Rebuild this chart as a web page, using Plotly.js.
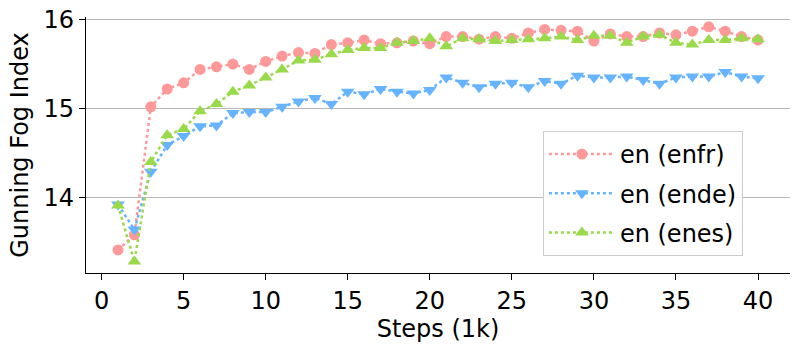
<!DOCTYPE html>
<html>
<head>
<meta charset="utf-8">
<script src="https://cdn.plot.ly/plotly-3.0.1.min.js"></script>
<style>
  html, body { margin: 0; padding: 0; background: #fff; }
  #chart { width: 806px; height: 352px; }
</style>
</head>
<body>
<div id="chart"></div>
<script>
// Training steps (thousands)
const steps = Array.from({length: 40}, (_, i) => i + 1);

// Gunning Fog Index per run
const enfr = [13.41, 13.58, 15.02, 15.22, 15.29, 15.44, 15.47, 15.50, 15.44, 15.53,
              15.59, 15.63, 15.62, 15.72, 15.74, 15.77, 15.73, 15.74, 15.76, 15.73,
              15.81, 15.81, 15.78, 15.81, 15.79, 15.85, 15.89, 15.88, 15.87, 15.76,
              15.84, 15.81, 15.81, 15.85, 15.83, 15.87, 15.92, 15.87, 15.81, 15.77];
const ende = [13.92, 13.64, 14.29, 14.59, 14.69, 14.80, 14.81, 14.95, 14.96, 14.96,
              15.02, 15.08, 15.12, 15.05, 15.19, 15.16, 15.22, 15.19, 15.17, 15.21,
              15.35, 15.29, 15.24, 15.28, 15.29, 15.24, 15.31, 15.28, 15.37, 15.35,
              15.35, 15.36, 15.32, 15.28, 15.35, 15.36, 15.36, 15.41, 15.36, 15.34];
const enes = [13.91, 13.28, 14.40, 14.70, 14.77, 14.97, 15.05, 15.19, 15.26, 15.35,
              15.44, 15.54, 15.55, 15.61, 15.66, 15.68, 15.68, 15.74, 15.76, 15.79,
              15.70, 15.79, 15.78, 15.76, 15.77, 15.78, 15.79, 15.81, 15.77, 15.82,
              15.82, 15.74, 15.81, 15.83, 15.74, 15.72, 15.77, 15.77, 15.79, 15.78];

const seriesNames = ['en (enfr)', 'en (ende)', 'en (enes)'];
const colors = ['#ff9999', '#66b3ff', '#99d94a'];
const symbols = ['circle', 'triangle-down', 'triangle-up'];

const font = 'DejaVu Sans, sans-serif';

const data = [enfr, ende, enes].map((vals, i) => ({
    x: steps,
    y: vals,
    name: seriesNames[i],
    legendgroup: 'g' + i,
    type: 'scatter',
    mode: 'lines+markers',
    line: {color: colors[i], width: 2.5, dash: 'dot'},
    marker: {color: colors[i], symbol: symbols[i], size: i === 0 ? 11 : 12}
}));

const layout = {
    width: 806,
    height: 352,
    margin: {l: 86, r: 16, t: 17, b: 79},
    paper_bgcolor: '#fff',
    plot_bgcolor: '#fff',
    font: {family: font, size: 24, color: '#000'},
    showlegend: true,
    legend: {
        x: 0.649, y: 0.555, xanchor: 'left', yanchor: 'top',
        bgcolor: 'rgba(255,255,255,0.9)',
        bordercolor: '#cccccc', borderwidth: 1,
        font: {family: font, size: 24},
        itemwidth: 66,
        traceorder: 'grouped',
        tracegroupgap: 5
    },
    xaxis: {
        range: [-0.95, 41.95],
        tickvals: [0, 5, 10, 15, 20, 25, 30, 35, 40],
        showgrid: false,
        zeroline: false,
        showline: true, linecolor: '#000', linewidth: 1.2,
        ticks: 'outside', ticklen: 6, tickcolor: '#000',
        title: {text: 'Steps (1k)', font: {family: font, size: 24}, standoff: 2}
    },
    yaxis: {
        range: [13.15, 16.03],
        tickvals: [14, 15, 16],
        showgrid: true, gridcolor: '#b8b8b8', gridwidth: 1.5,
        zeroline: false,
        showline: true, linecolor: '#000', linewidth: 1.2,
        ticks: 'outside', ticklen: 6, tickcolor: '#000',
        title: {text: 'Gunning Fog Index', font: {family: font, size: 24}, standoff: 8}
    }
};

Plotly.newPlot('chart', data, layout, {displayModeBar: false, staticPlot: true});
</script>
</body>
</html>
